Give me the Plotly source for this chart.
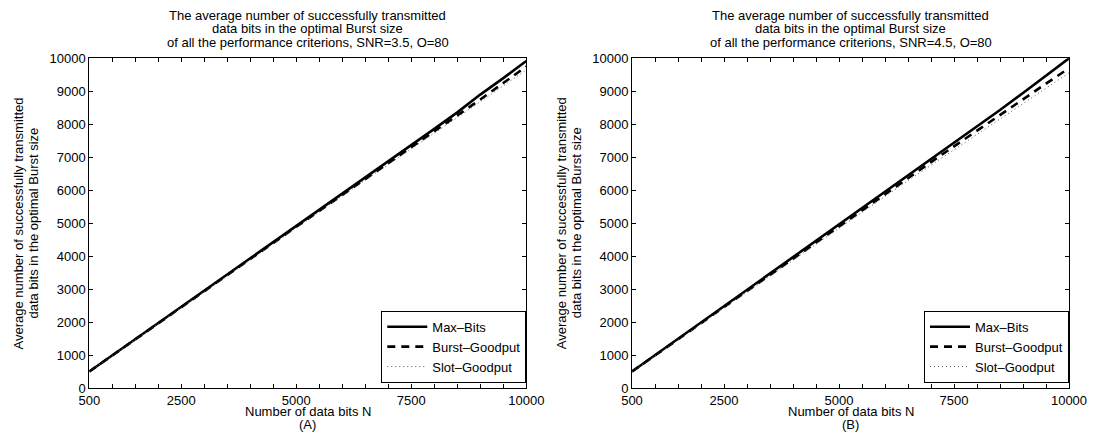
import plotly.graph_objects as go

N = [500, 1000, 1500, 2000, 2500, 3000, 3500, 4000, 4500, 5000,
     5500, 6000, 6500, 7000, 7500, 8000, 8500, 9000, 9500, 10000]

max_bits_a = [500, 990, 1480, 1960, 2460, 2950, 3440, 3930, 4420, 4920,
              5400, 5900, 6390, 6880, 7370, 7860, 8360, 8900, 9400, 9920]
burst_a = [500, 985, 1470, 1950, 2450, 2940, 3420, 3910, 4400, 4890,
           5370, 5860, 6340, 6830, 7310, 7790, 8250, 8750, 9250, 9750]
slot_a = [495, 975, 1460, 1940, 2430, 2920, 3400, 3890, 4380, 4860,
          5340, 5830, 6310, 6790, 7260, 7730, 8200, 8680, 9160, 9650]

max_bits_b = [500, 995, 1490, 1980, 2480, 2970, 3470, 3960, 4460, 4950,
              5450, 5950, 6440, 6930, 7430, 7920, 8430, 8950, 9470, 10000]
burst_b = [500, 990, 1480, 1970, 2460, 2950, 3440, 3930, 4420, 4900,
           5390, 5880, 6360, 6850, 7330, 7810, 8290, 8760, 9230, 9700]
slot_b = [495, 980, 1465, 1950, 2440, 2920, 3400, 3890, 4370, 4850,
          5330, 5810, 6290, 6760, 7230, 7700, 8170, 8630, 9090, 9560]

x_tick_vals = list(range(500, 10001, 500))
x_tick_labeled = {500: "500", 2500: "2500", 5000: "5000", 7500: "7500", 10000: "10000"}
x_tick_text = [x_tick_labeled.get(v, "") for v in x_tick_vals]
y_tick_vals = list(range(0, 10001, 1000))
y_tick_text = [str(v) for v in y_tick_vals]

title_lines = [
    ["The average number of successfully transmitted",
     "data bits in the optimal Burst size",
     "of all the performance criterions, SNR=3.5, O=80"],
    ["The average number of successfully transmitted",
     "data bits in the optimal Burst size",
     "of all the performance criterions, SNR=4.5, O=80"],
]
ylabel_lines = ["Average number of successfully transmitted",
                "data bits in the optimal Burst size"]
xlabel = "Number of data bits N"
panel_labels = ["(A)", "(B)"]
series_names = ["Max\u2013Bits", "Burst\u2013Goodput", "Slot\u2013Goodput"]

# page body has an 8px default margin: work in screen pixels, then offset
OFF = 8
W, H = 1095 - OFF, 441 - OFF
FONT = "Liberation Sans, Arial, sans-serif"
fig = go.Figure()

panels = [(max_bits_a, burst_a, slot_a), (max_bits_b, burst_b, slot_b)]
styles = [dict(color="black", width=2.6, dash="solid"),
          dict(color="black", width=2.6, dash="8px,6px"),
          dict(color="#555555", width=1, dash="1px,3px")]

for i, data in enumerate(panels):
    xa = "x" if i == 0 else "x2"
    ya = "y" if i == 0 else "y2"
    lg = "legend" if i == 0 else "legend2"
    for name, vals, st in zip(series_names, data, styles):
        fig.add_trace(go.Scatter(x=N, y=vals, mode="lines", name=name,
                                 line=st, xaxis=xa, yaxis=ya, legend=lg))

px_left = [89.3, 632.0]
px_w = 437.0
px_top, px_bot = 58.3, 388.0

def fx(px):
    return (px - OFF) / W

def fy(py):
    return 1 - (py - OFF) / H

xd = [[fx(l), fx(l + px_w)] for l in px_left]
yd = [fy(px_bot), fy(px_top)]

axis_common = dict(showgrid=False, zeroline=False, showline=True, linecolor="black",
                   linewidth=1, mirror="ticks", ticks="inside", ticklen=4,
                   tickcolor="black", automargin=False,
                   tickfont=dict(family=FONT, size=13, color="black"))

def ann(text, xp, yp, angle=0):
    fig.add_annotation(text=text, x=fx(xp), y=fy(yp), xref="paper", yref="paper",
                       xanchor="center", yanchor="middle", showarrow=False,
                       textangle=angle, font=dict(family=FONT, size=13, color="black"))

for i in range(2):
    sfx = "" if i == 0 else "2"
    fig.update_layout(**{
        "xaxis" + sfx: dict(axis_common, domain=xd[i], range=[500, 10000],
                            tickvals=x_tick_vals, ticktext=x_tick_text,
                            anchor="y" + sfx),
        "yaxis" + sfx: dict(axis_common, domain=yd, range=[0, 10000],
                            tickvals=y_tick_vals, ticktext=y_tick_text,
                            anchor="x" + sfx),
    })
    cx = px_left[i] + px_w / 2
    for j, line in enumerate(title_lines[i]):
        ann(line, cx, 16 + 13 * j)
    ann(xlabel, cx, 411)
    ann(panel_labels[i], cx, 424)
    ann(ylabel_lines[0], px_left[i] - 71, (px_top + px_bot) / 2, -90)
    ann(ylabel_lines[1], px_left[i] - 56, (px_top + px_bot) / 2, -90)

leg_common = dict(bgcolor="white", bordercolor="black", borderwidth=1,
                  font=dict(family=FONT, size=13, color="black"),
                  xanchor="right", yanchor="bottom", tracegroupgap=0,
                  itemwidth=40)
fig.update_layout(
    legend=dict(leg_common, x=xd[0][1], y=yd[0] + 0.012),
    legend2=dict(leg_common, x=xd[1][1], y=yd[0] + 0.012),
    width=W, height=H, margin=dict(l=0, r=0, t=0, b=0, autoexpand=False),
    plot_bgcolor="white", paper_bgcolor="white", showlegend=True,
)

fig.write_html("out.html")
